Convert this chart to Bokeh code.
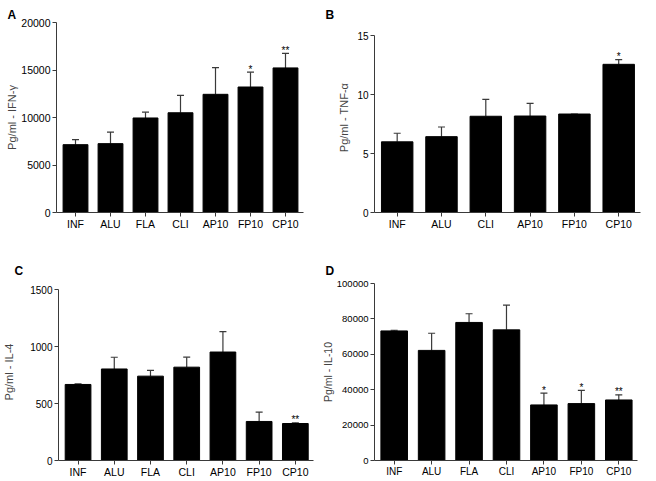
from bokeh.plotting import figure
from bokeh.models import (Range1d, Whisker, TeeHead, ColumnDataSource,
                          FixedTicker, BasicTickFormatter)
from bokeh.layouts import column, row
from bokeh.embed import file_html
from bokeh.resources import INLINE
from bokeh.core.properties import value

# ---- data ----
cats_a = ["INF", "ALU", "FLA", "CLI", "AP10", "FP10", "CP10"]
ifn_mean = [7140, 7250, 9950, 10500, 12440, 13210, 15220]
ifn_err = [530, 1220, 610, 1830, 2810, 1560, 1520]
ifn_star = ["", "", "", "", "", "*", "**"]
ifn_ticks = [0, 5000, 10000, 15000, 20000]

cats_b = ["INF", "ALU", "CLI", "AP10", "FP10", "CP10"]
tnf_mean = [6.0, 6.44, 8.17, 8.19, 8.36, 12.58]
tnf_err = [0.73, 0.82, 1.44, 1.08, 0.0, 0.39]
tnf_star = ["", "", "", "", "", "*"]
tnf_ticks = [0, 5, 10, 15]

cats_c = ["INF", "ALU", "FLA", "CLI", "AP10", "FP10", "CP10"]
il4_mean = [668, 804, 741, 820, 953, 343, 325]
il4_err = [5, 103, 50, 88, 180, 82, 6]
il4_star = ["", "", "", "", "", "", "**"]
il4_ticks = [0, 500, 1000, 1500]

cats_d = ["INF", "ALU", "FLA", "CLI", "AP10", "FP10", "CP10"]
il10_mean = [73200, 62200, 78000, 73800, 31400, 32150, 34200]
il10_err = [400, 9700, 4900, 14000, 6700, 7450, 2900]
il10_star = ["", "", "", "", "*", "*", "**"]
il10_ticks = [0, 20000, 40000, 60000, 80000, 100000]

FONT = "Liberation Sans"
AX = "#3a3a3a"


def panel(cats, means, errs, stars, ticks, ylabel, letter, w, h, bl, br, bt, bb,
          xr, xb, ytop, ytick_fs, xtick_fs, lab_fs, lab_standoff,
          letter_offset, letter_standoff):
    n = len(cats)
    xs = list(range(n))
    src = ColumnDataSource(dict(x=xs, mean=means,
                                upper=[m + e for m, e in zip(means, errs)],
                                star=stars))
    p = figure(x_range=Range1d(*xr), y_range=Range1d(0, ytop),
               width=w, height=h, output_backend="svg", toolbar_location=None,
               min_border_left=bl, min_border_right=br, min_border_top=bt,
               min_border_bottom=bb)
    p.outline_line_color = None
    p.xgrid.grid_line_color = None
    p.ygrid.grid_line_color = None

    # panel letter as the (left aligned) title
    p.title.text = letter
    p.title.align = "left"
    p.title.offset = letter_offset
    p.title.standoff = letter_standoff
    p.title.text_font = FONT
    p.title.text_font_style = "bold"
    p.title.text_font_size = "12px"
    p.title.text_color = "black"

    p.vbar(x="x", top="mean", bottom=0, width=0.71, source=src,
           fill_color="black", line_color="black")
    wh = Whisker(source=src, base="x", upper="upper", lower="mean",
                 dimension="height", line_color=AX, line_width=1.2,
                 upper_head=TeeHead(size=7, line_color=AX, line_width=1.2),
                 lower_head=None)
    p.add_layout(wh)
    p.text(x="x", y="upper", text="star", source=src, text_align="center",
           text_baseline="alphabetic", text_font_size="10px",
           text_font=value(FONT), text_color="black", y_offset=-3)

    for ax in (p.xaxis[0], p.yaxis[0]):
        ax.axis_line_color = AX
        ax.axis_line_width = 1
        ax.major_tick_line_color = AX
        ax.major_tick_out = 4
        ax.major_tick_in = 0
        ax.minor_tick_line_color = None
        ax.major_label_text_font = FONT
        ax.major_label_text_color = "black"
    p.xaxis.major_label_standoff = 1
    p.yaxis.major_label_standoff = 2
    p.xaxis.ticker = FixedTicker(ticks=xs)
    p.xaxis.major_label_overrides = {i: c for i, c in zip(xs, cats)}
    p.xaxis.bounds = xb
    p.xaxis.major_label_text_font_size = xtick_fs
    p.yaxis.major_label_text_font_size = ytick_fs
    p.yaxis.ticker = FixedTicker(ticks=ticks)
    p.yaxis.bounds = (0, ticks[-1])
    p.yaxis.formatter = BasicTickFormatter(use_scientific=False)
    p.yaxis.axis_label = ylabel
    p.yaxis.axis_label_text_font = FONT
    p.yaxis.axis_label_text_font_style = "normal"
    p.yaxis.axis_label_text_font_size = lab_fs
    p.yaxis.axis_label_standoff = lab_standoff
    return p


pA = panel(cats_a, ifn_mean, ifn_err, ifn_star, ifn_ticks, "Pg/ml - IFN-γ", "A",
           316, 236, 56, 3, 22, 24, (-0.543, 6.8), (-0.543, 6.514), 20000,
           "10.5px", "10.5px", "11px", 0, -49, 2)
pB = panel(cats_b, tnf_mean, tnf_err, tnf_star, tnf_ticks, "Pg/ml - TNF-α", "B",
           340, 236, 58, 16, 22, 24, (-0.512, 5.492), (-0.512, 5.492), 16.13,
           "10px", "10.5px", "11px", 4, -49, 2)
pC = panel(cats_c, il4_mean, il4_err, il4_star, il4_ticks, "Pg/ml - IL-4", "C",
           316, 245, 56, 3, 47, 21, (-0.54, 6.501), (-0.54, 6.501), 1555,
           "10px", "10.5px", "11px", 12, -44, 11)
pD = panel(cats_d, il10_mean, il10_err, il10_star, il10_ticks, "Pg/ml - IL-10", "D",
           340, 245, 58, 16, 47, 21, (-0.526, 6.58), (-0.526, 6.5), 100000,
           "9.5px", "10px", "10.5px", 0, -49, 11)

layout = column(row(pA, pB), row(pC, pD))
open("out.html", "w").write(file_html(layout, INLINE))
